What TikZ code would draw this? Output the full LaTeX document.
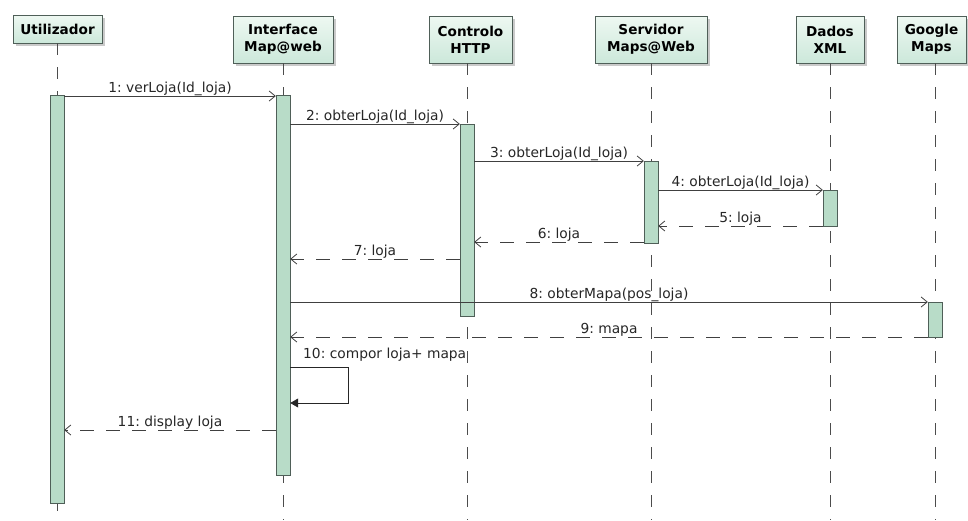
\documentclass[tikz,border=0pt]{standalone}
\usepackage{fontspec}
\setmainfont{DejaVu Sans}
\usetikzlibrary{arrows.meta,shadows}
\definecolor{hdrfill}{HTML}{CCE8DA}
\definecolor{hdrtop}{HTML}{EEF8F2}
\definecolor{actfill}{HTML}{B8DCC8}
\definecolor{edge}{HTML}{4F5F58}
\begin{document}
\begin{tikzpicture}[x=1pt,y=-1pt,
  hdr/.style={draw=edge,line width=0.9pt,top color=hdrtop,bottom color=hdrfill,
    font=\bfseries\fontsize{13.6}{17}\selectfont,align=center,inner sep=0pt,
    drop shadow={shadow xshift=2.5pt,shadow yshift=-2.5pt,fill=black!35,opacity=0.6}},
  lifeline/.style={draw=black!70,line width=0.8pt,dash pattern=on 12pt off 12pt},
  act/.style={draw=edge,fill=actfill,line width=0.9pt},
  msg/.style={draw=black!75,line width=0.8pt,-{Straight Barb[length=6pt,width=10pt]}},
  ret/.style={draw=black!75,line width=0.8pt,dash pattern=on 14pt off 12pt,-{Straight Barb[length=6pt,width=10pt]}},
  self/.style={draw=black!85,line width=0.8pt,-{Triangle[length=8pt,width=9pt]}},
  lbl/.style={font=\fontsize{13.8}{14}\selectfont,inner sep=0pt,text=black!85,anchor=base,yshift=3.5pt}]
\useasboundingbox (0,0) rectangle (968,520);
% header boxes
\node[hdr,minimum width=89pt,minimum height=28pt] (hU) at (57.5,29) {Utilizador};
\node[hdr,minimum width=100pt,minimum height=47pt] (hI) at (283,39.5) {Interface\\Map@web};
\node[hdr,minimum width=83pt,minimum height=47pt] (hC) at (470.5,39.5) {Controlo\\HTTP};
\node[hdr,minimum width=112pt,minimum height=47pt] (hS) at (651,39.5) {Servidor\\Maps@Web};
\node[hdr,minimum width=68pt,minimum height=47pt] (hD) at (830,39.5) {Dados\\XML};
\node[hdr,minimum width=69pt,minimum height=47pt] (hG) at (931.5,39.5) {Google\\Maps};
% lifeline ends
\coordinate (eU) at (57,520);
\coordinate (eI) at (283,520);
\coordinate (eC) at (467,520);
\coordinate (eS) at (651,520);
\coordinate (eD) at (830,520);
\coordinate (eG) at (935,520);
\draw[lifeline] (hU.south -| eU) -- (eU);
\draw[lifeline] (hI.south -| eI) -- (eI);
\draw[lifeline] (hC.south -| eC) -- (eC);
\draw[lifeline] (hS.south -| eS) -- (eS);
\draw[lifeline] (hD.south -| eD) -- (eD);
\draw[lifeline] (hG.south -| eG) -- (eG);
% activations
\path[act] (50,95) rectangle (64,503);
\node[inner sep=0pt,minimum width=14pt,minimum height=408pt] (aU) at (57,299) {};
\path[act] (276,95) rectangle (290,475);
\node[inner sep=0pt,minimum width=14pt,minimum height=380pt] (aI) at (283,285) {};
\path[act] (460,124) rectangle (474,316);
\node[inner sep=0pt,minimum width=14pt,minimum height=192pt] (aC) at (467,220) {};
\path[act] (644,161) rectangle (658,243);
\node[inner sep=0pt,minimum width=14pt,minimum height=82pt] (aS) at (651,202) {};
\path[act] (823,190) rectangle (837,226);
\node[inner sep=0pt,minimum width=14pt,minimum height=36pt] (aD) at (830,208) {};
\path[act] (928,302) rectangle (942,337);
\node[inner sep=0pt,minimum width=14pt,minimum height=35pt] (aG) at (935,319.5) {};
% messages
\coordinate (m1) at (0,96);
\draw[msg] (aU.east |- m1) -- node[lbl] {1:\ verLoja(Id\_loja)} (aI.west |- m1);
\coordinate (m2) at (0,124);
\draw[msg] (aI.east |- m2) -- node[lbl] {2:\ obterLoja(Id\_loja)} (aC.west |- m2);
\coordinate (m3) at (0,161);
\draw[msg] (aC.east |- m3) -- node[lbl] {3:\ obterLoja(Id\_loja)} (aS.west |- m3);
\coordinate (m4) at (0,190);
\draw[msg] (aS.east |- m4) -- node[lbl] {4:\ obterLoja(Id\_loja)} (aD.west |- m4);
\coordinate (m5) at (0,226);
\draw[ret] (aD.west |- m5) -- node[lbl] {5:\ loja} (aS.east |- m5);
\coordinate (m6) at (0,242);
\draw[ret] (aS.west |- m6) -- node[lbl] {6:\ loja} (aC.east |- m6);
\coordinate (m7) at (0,259);
\draw[ret] (aC.west |- m7) -- node[lbl] {7:\ loja} (aI.east |- m7);
\coordinate (m8) at (0,302);
\draw[msg] (aI.east |- m8) -- node[lbl] {8:\ obterMapa(pos\_loja)} (aG.west |- m8);
\coordinate (m9) at (0,337);
\draw[ret] (aG.west |- m9) -- node[lbl] {9:\ mapa} (aI.east |- m9);
\coordinate (m10a) at (0,367);
\coordinate (m10b) at (0,403);
\coordinate (sx) at (348,0);
\draw[self] (aI.east |- m10a) -- (sx |- m10a) -- (sx |- m10b) -- (aI.east |- m10b);
\node[lbl,anchor=base west,yshift=0pt] (l10) at (303,362) {10:\ compor loja+ mapa};
\coordinate (m11) at (0,430);
\draw[ret] (aI.west |- m11) -- node[lbl] {11:\ display loja} (aU.east |- m11);
\end{tikzpicture}
\end{document}
